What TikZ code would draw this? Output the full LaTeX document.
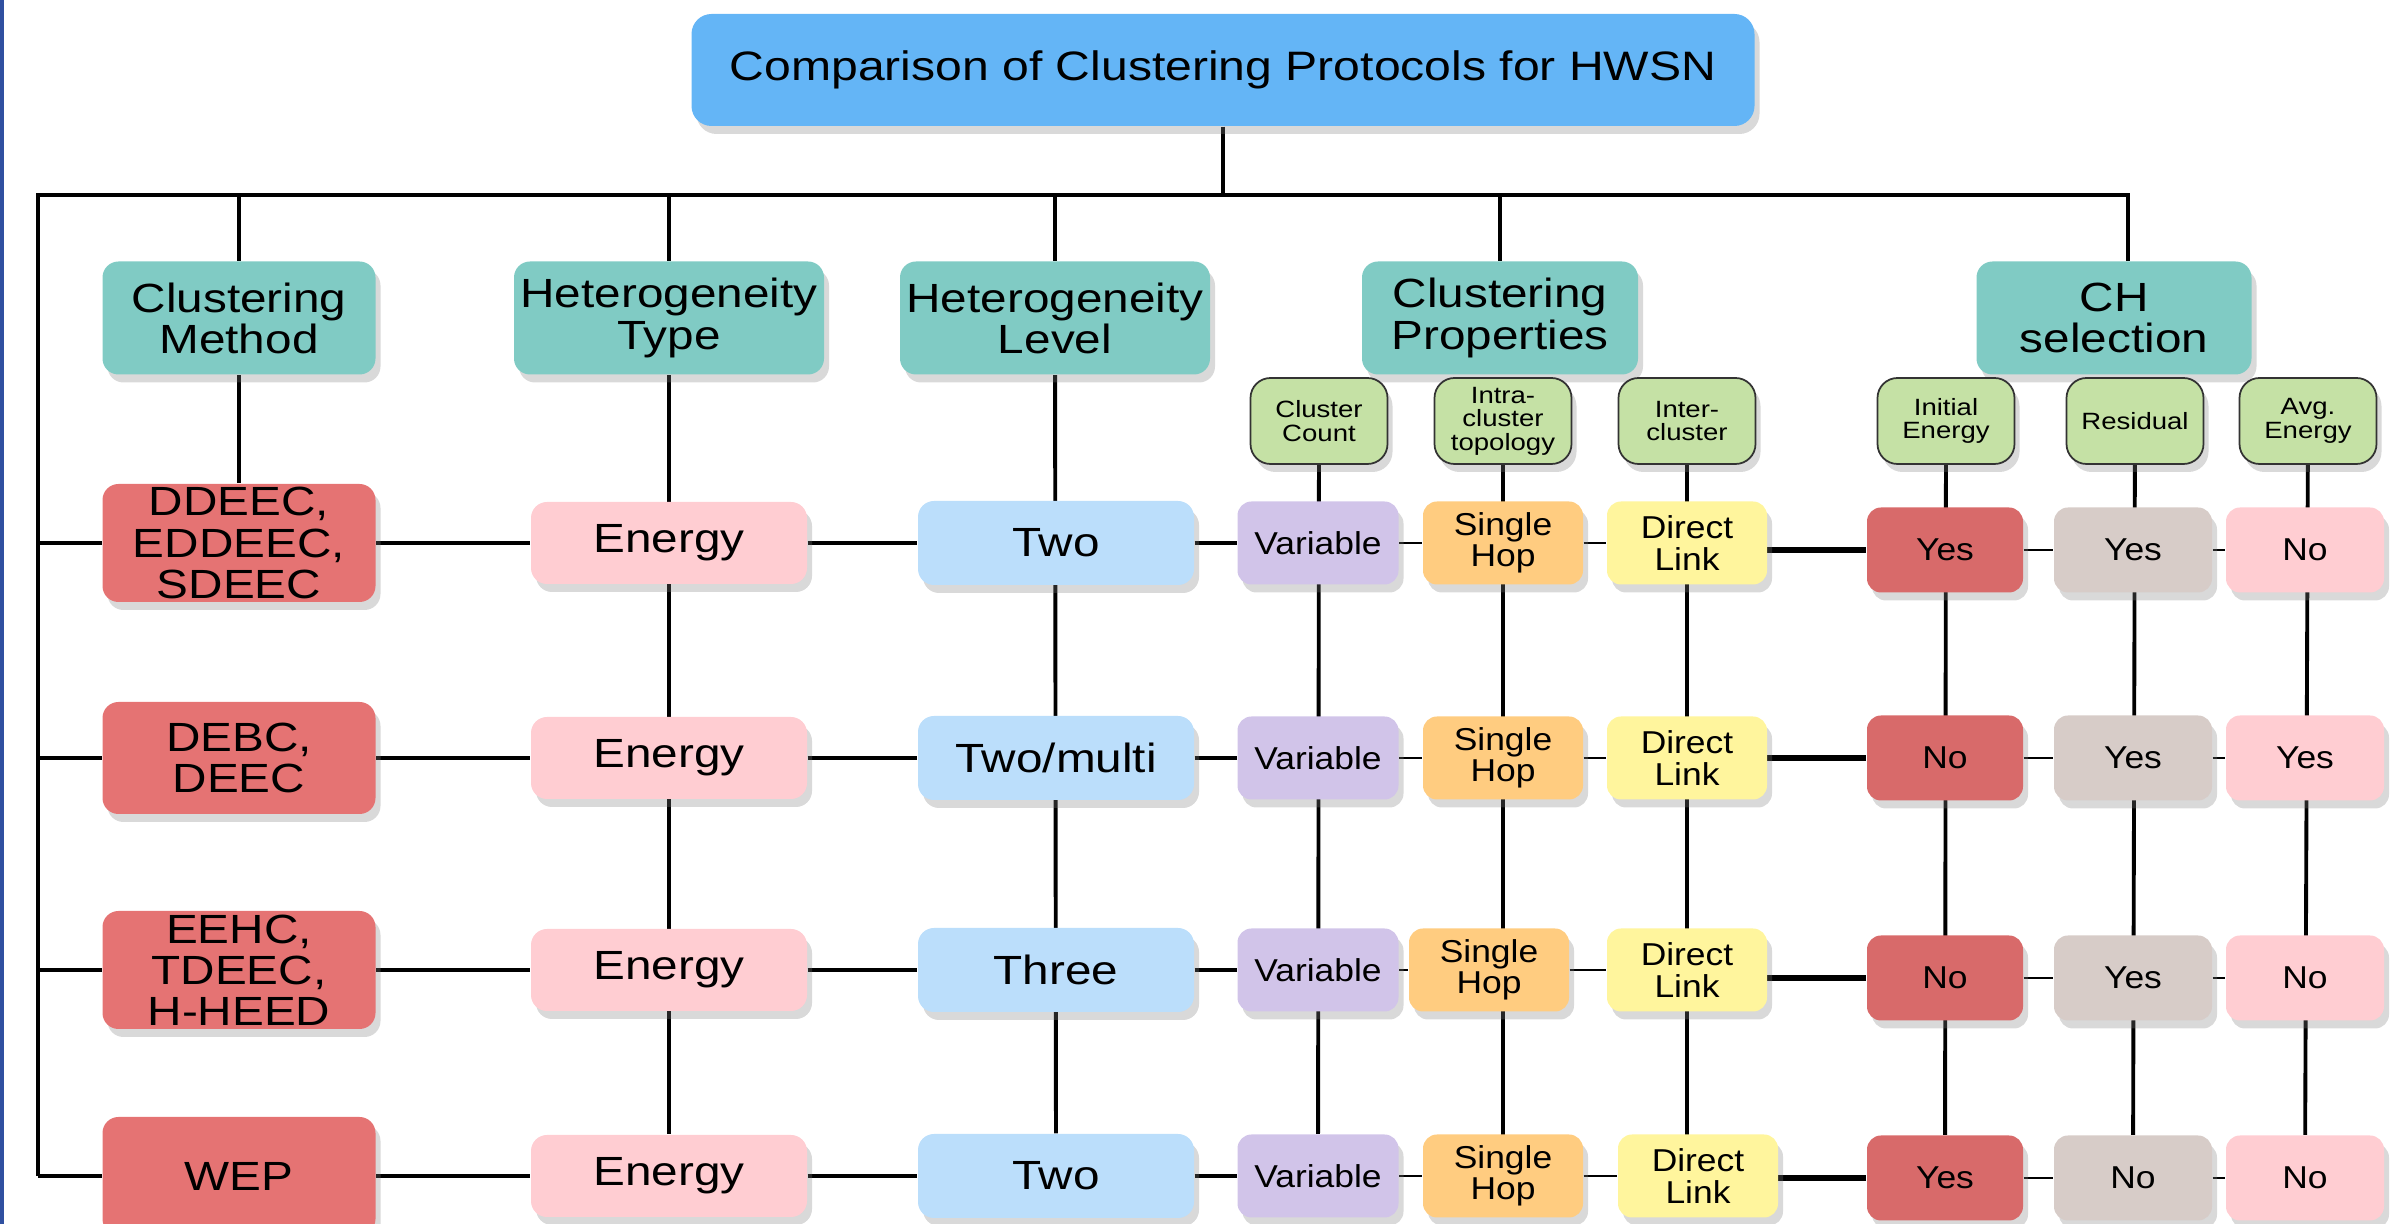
\documentclass[tikz,border=0pt]{standalone}
\usepackage{fontspec}
\setmainfont{Liberation Sans}
\newfontfamily\bigfont{Liberation Sans}[FakeStretch=1.17]
\newfontfamily\midfont{Liberation Sans}[FakeStretch=1.12]
\newfontfamily\subfont{Liberation Sans}[FakeStretch=1.17]
\usetikzlibrary{shadows,backgrounds}

\definecolor{titleblue}{HTML}{64B5F6}
\definecolor{headteal}{HTML}{80CBC4}
\definecolor{methred}{HTML}{E57373}
\definecolor{yesred}{HTML}{D86A6A}
\definecolor{pinkbox}{HTML}{FFCDD2}
\definecolor{levblue}{HTML}{BBDEFB}
\definecolor{lavbox}{HTML}{D1C4E9}
\definecolor{orbox}{HTML}{FFCC80}
\definecolor{yelbox}{HTML}{FFF59D}
\definecolor{subgreen}{HTML}{C5E1A5}
\definecolor{greybox}{HTML}{D7CCC8}
\definecolor{edgeblue}{HTML}{3050A0}

\begin{document}
\begin{tikzpicture}[x=0.1mm,y=-0.1mm,
	box/.style={rounded corners=1.6mm,align=center,inner sep=0pt,
	  drop shadow={shadow xshift=0.5mm,shadow yshift=-0.8mm,opacity=0.3}},
	big/.style={box,font=\bigfont\fontsize{11.6}{11.7}\selectfont},
	mid/.style={box,rounded corners=1.4mm,font=\midfont\fontsize{9}{9}\selectfont,minimum height=8.3mm},
	sub/.style={box,rounded corners=2mm,draw=black!80,line width=0.5pt,fill=subgreen,
	  minimum width=13.7mm,minimum height=8.6mm,font=\subfont\fontsize{6.7}{6.7}\selectfont},
	link/.style={line width=1.1pt},
	thin/.style={line width=0.5pt},
	heavy/.style={line width=1.5pt}]
	\useasboundingbox (0,0) rectangle (2407,1224);

	\node[big,fill=titleblue,rounded corners=2mm,minimum width=106.3mm,minimum height=11.2mm,
	  font=\bigfont\fontsize{11.7}{14}\selectfont] (title) at (1223,70) {Comparison of Clustering Protocols for HWSN};

	\node[big,fill=headteal,minimum width=27.3mm,minimum height=11.3mm] (cm) at (239,318) {Clustering\\Method};
	\node[big,fill=headteal,minimum width=31mm,minimum height=11.3mm] (ht) at (669,318) {Heterogeneity\\Type};
	\node[big,fill=headteal,minimum width=31mm,minimum height=11.3mm] (hl) at (1055,318) {Heterogeneity\\Level};
	\node[big,fill=headteal,minimum width=27.6mm,minimum height=11.3mm] (cp) at (1500,318) {Clustering\\Properties};
	\node[big,fill=headteal,minimum width=27.5mm,minimum height=11.3mm] (ch) at (2114,318) {CH\\selection};

	\node[sub] (hcc) at (1319,421) {Cluster\\Count};
	\node[sub] (hia) at (1503,421) {Intra-\\cluster\\topology};
	\node[sub] (hie) at (1687,421) {Inter-\\cluster};
	\node[sub] (hin) at (1946,421) {Initial\\Energy};
	\node[sub] (hre) at (2135,421) {Residual};
	\node[sub] (hav) at (2308,421) {Avg.\\Energy};

	\foreach \r/\y/\yy/\mh/\meth/\lev/\sx/\dx/\a/\b/\c in {
	  1/543/550/11.8/{DDEEC,\\EDDEEC,\\SDEEC}/Two/1503/1687/Yes/Yes/No,
	  2/758/758/11.2/{DEBC,\\DEEC}/{Two/multi}/1503/1687/No/Yes/Yes,
	  3/970/978/11.8/{EEHC,\\TDEEC,\\H-HEED}/Three/1489/1687/No/Yes/No,
	  4/1176/1178/11.8/WEP/Two/1503/1698/Yes/No/No}
	{
	\node[big,fill=methred,minimum width=27.3mm,minimum height=\mh mm] (m\r) at (239,\y) {\meth};
	\node[big,fill=pinkbox,minimum width=27.6mm,minimum height=8.2mm] (e\r) at (669,\y) {Energy};
	\node[big,fill=levblue,minimum width=27.6mm,minimum height=8.4mm] (l\r) at (1056,\y) {\lev};
	\node[mid,fill=lavbox,minimum width=16.1mm] (v\r) at (1318,\y) {Variable};
	\node[mid,fill=orbox,minimum width=16mm] (s\r) at (\sx,\y) {Single\\Hop};
	\node[mid,fill=yelbox,minimum width=16mm] (d\r) at (\dx,\y) {Direct\\Link};
	\node[mid,fill=yesred,minimum width=15.6mm,minimum height=8.5mm] (i\r) at (1945,\yy) {\a};
	\node[mid,fill=greybox,minimum width=15.8mm,minimum height=8.5mm] (q\r) at (2133,\yy) {\b};
	\node[mid,fill=pinkbox,minimum width=15.8mm,minimum height=8.5mm] (g\r) at (2305,\yy) {\c};
	}

	\begin{scope}[on background layer]
	\coordinate (busl) at (38,195);
	\coordinate (busr) at (2128,195);
	\draw[line width=1.4pt] (busl |- m4) -- (busl) -- (busr) -- (busr |- ch.north);
	\draw[link] (title) -- (title |- busl);
	\foreach \c in {cm,ht,hl,cp}
	  \draw[link] (\c |- busl) -- (\c);

	\draw[link] (cm) -- (m1);
	\draw[link] (ht) -- (e4);
	\draw[link] (hl) -- (l4);
	\draw[link] (hcc) -- (v4);
	\draw[link] (hia) -- (hia |- s4);
	\draw[link] (hie) -- (hie |- d4);
	\draw[link] (hin) -- (i4);
	\draw[link] (hre) -- (q4);
	\draw[link] (hav) -- (g4);

	\foreach \r in {1,...,4} {
	  \draw[link] (busl |- m\r) -- (m\r) -- (e\r) -- (l\r) -- (v\r);
	  \draw[thin] (v\r) -- (s\r) -- (d\r);
	  \draw[heavy] (d\r |- i\r) -- (i\r);
	  \draw[thin] (i\r) -- (q\r) -- (g\r);
	}
	\end{scope}

	\fill[edgeblue] (0,0) rectangle (4,1224);
\end{tikzpicture}
\end{document}
